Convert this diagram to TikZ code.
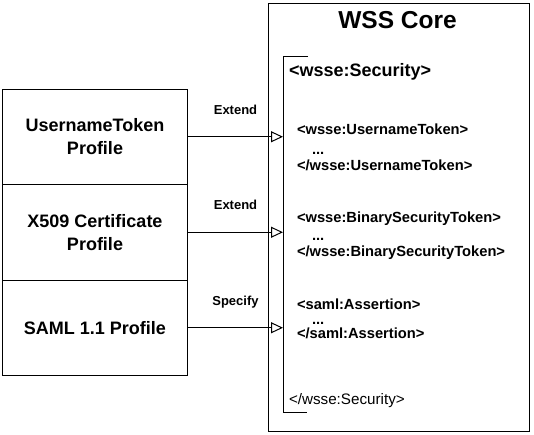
\documentclass[tikz,border=0pt]{standalone}
\usepackage{fontspec}
\setmainfont{Liberation Sans}
\usetikzlibrary{arrows.meta}
\begin{document}
\begin{tikzpicture}[x=1pt,y=-1pt,
  every path/.style={line width=1pt},
  profile/.style={draw, line width=1pt, minimum width=185pt, minimum height=95.5pt, inner sep=0pt, align=center,
    font=\fontsize{18}{22.7}\selectfont\bfseries},
  corebox/.style={draw, line width=1pt, minimum width=261pt, minimum height=428pt, inner sep=0pt},
  conn/.style={draw, line width=1pt, -{Triangle[open, length=12pt, width=11pt]}},
  lbl/.style={midway, anchor=base, yshift=22.5pt, inner sep=0pt, font=\fontsize{13}{15}\selectfont\bfseries},
  xml/.style={anchor=base west, inner sep=0pt, font=\fontsize{14.7}{16}\selectfont\bfseries},
  xmlbig/.style={anchor=base west, inner sep=0pt, font=\fontsize{18}{20}\selectfont\bfseries},
  xmlend/.style={anchor=base west, inner sep=0pt, font=\fontsize{15.2}{18}\selectfont},
  title/.style={anchor=base, inner sep=0pt, font=\fontsize{24.5}{28}\selectfont\bfseries}]
\useasboundingbox (0,0) rectangle (534,434);

% WSS core box
\node[corebox] (core) at (398.5,217) {};
\node[title] (ttl) at (397.5,28.3) {WSS Core};

% bracket of wsse:Security
\coordinate (bt) at (308,56);
\coordinate (brk) at (283,56);
\coordinate (bb) at (283,412);
\coordinate (be) at (307,412);
\draw (bt) -- (brk) -- (bb) -- (be);

% profiles
\node[profile] (u) at (95,136.75) {UsernameToken\\Profile};
\node[profile] (x) at (95,232.25) {X509 Certificate\\Profile};
\node[profile] (s) at (95,327.75) {SAML 1.1 Profile};

% connectors
\draw[conn] (u.east) -- (u.east -| brk) node[lbl] {Extend};
\draw[conn] (x.east) -- (x.east -| brk) node[lbl] {Extend};
\draw[conn] (s.east) -- (s.east -| brk) node[lbl] {Specify};

% xml texts
\node[xmlbig] (sec) at (288.5,76) {<wsse:Security>};
\node[xml] (ut1) at (296.5,134.3) {<wsse:UsernameToken>};
\node[xml] (ut2) at (311.5,154) {...};
\node[xml] (ut3) at (296.5,170) {</wsse:UsernameToken>};
\node[xml] (bs1) at (296.5,222.3) {<wsse:BinarySecurityToken>};
\node[xml] (bs2) at (311.5,240) {...};
\node[xml] (bs3) at (296.5,256.7) {</wsse:BinarySecurityToken>};
\node[xml] (sa1) at (296.5,309) {<saml:Assertion>};
\node[xml] (sa2) at (311.5,324.3) {...};
\node[xml] (sa3) at (296.5,338.3) {</saml:Assertion>};
\node[xmlend] (sece) at (288.5,404) {</wsse:Security>};
\end{tikzpicture}
\end{document}
